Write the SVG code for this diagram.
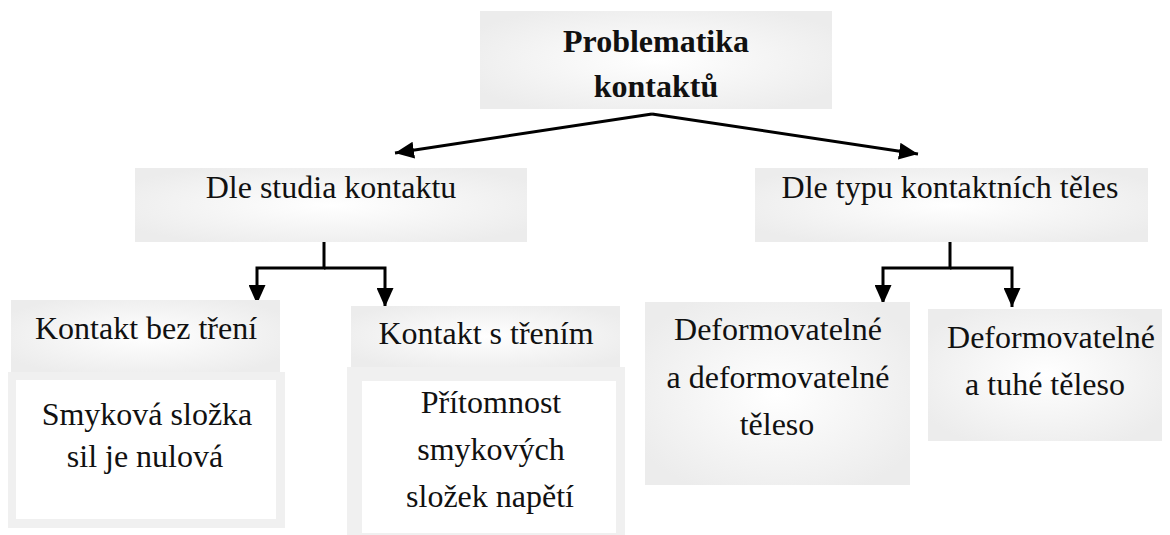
<svg xmlns="http://www.w3.org/2000/svg" width="1170" height="535" viewBox="0 0 1170 535">
<style>
.t{font-family:"Liberation Serif","Times New Roman",serif;font-size:32px;fill:#111;text-anchor:middle}
.b{font-weight:bold}
.c{fill:none;stroke:#000;stroke-width:3}
.g{fill:url(#rg)}
.frame{fill:#f0f0f0}
.inner{fill:#fff}
</style>
<defs>
<radialGradient id="rg" cx="0.5" cy="0.5" r="0.6">
<stop offset="0" stop-color="#ffffff"/>
<stop offset="1" stop-color="#ececec"/>
</radialGradient>
<marker id="ah" viewBox="0 0 10 10" refX="10" refY="5" markerWidth="19" markerHeight="17" markerUnits="userSpaceOnUse" orient="auto" preserveAspectRatio="none">
<path d="M0,0 L10,5 L0,10 z" fill="#000"/>
</marker>
</defs>
<g id="connectors">
<path class="c" d="M652,114 L395,153" marker-end="url(#ah)"/>
<path class="c" d="M652,114 L918,154" marker-end="url(#ah)"/>
<path class="c" d="M324,242 V268 H257 V304" marker-end="url(#ah)"/>
<path class="c" d="M324,268 H385 V307" marker-end="url(#ah)"/>
<path class="c" d="M950,242 V268 H883 V304" marker-end="url(#ah)"/>
<path class="c" d="M950,268 H1012 V307" marker-end="url(#ah)"/>
</g>
<g id="n-root">
<rect class="g" x="480" y="11" width="352" height="98"/>
<text class="t b" x="656" y="52">Problematika</text>
<text class="t b" x="656" y="97">kontaktů</text>
</g>
<g id="n-studia">
<rect class="g" x="135" y="168" width="392" height="74"/>
<text class="t" x="331" y="198">Dle studia kontaktu</text>
</g>
<g id="n-typu">
<rect class="g" x="755" y="168" width="393" height="74"/>
<text class="t" x="950" y="198">Dle typu kontaktních těles</text>
</g>
<g id="n-beztreni">
<rect class="g" x="11" y="300" width="269" height="72"/>
<text class="t" x="146" y="339">Kontakt bez tření</text>
</g>
<g id="n-beztreni-desc">
<rect class="frame" x="8" y="372" width="277" height="156"/>
<rect class="inner" x="16" y="380" width="260" height="139"/>
<text class="t" x="147" y="425">Smyková složka</text>
<text class="t" x="145" y="467">sil je nulová</text>
</g>
<g id="n-streni">
<rect class="g" x="351" y="306" width="269" height="61"/>
<text class="t" x="486" y="344">Kontakt s třením</text>
</g>
<g id="n-streni-desc">
<rect class="frame" x="347" y="367" width="278" height="175"/>
<rect class="inner" x="362" y="381" width="254" height="152"/>
<text class="t" x="491" y="413">Přítomnost</text>
<text class="t" x="491" y="460">smykových</text>
<text class="t" x="490" y="507">složek napětí</text>
</g>
<g id="n-defdef">
<rect class="g" x="645" y="302" width="265" height="183"/>
<text class="t" x="778" y="340">Deformovatelné</text>
<text class="t" x="778" y="388">a deformovatelné</text>
<text class="t" x="777" y="435">těleso</text>
</g>
<g id="n-deftuhe">
<rect class="g" x="928" y="309" width="234" height="132"/>
<text class="t" x="1051" y="348">Deformovatelné</text>
<text class="t" x="1045" y="395">a tuhé těleso</text>
</g>
</svg>
